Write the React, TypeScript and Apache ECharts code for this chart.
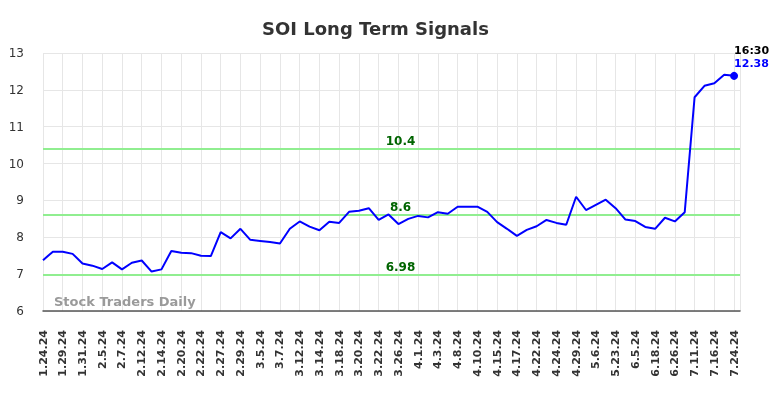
import React, { useEffect, useRef } from "react";
import * as echarts from "echarts";

const dates: string[] = [
  "1.24.24", "1.26.24", "1.29.24", "1.30.24", "1.31.24", "2.2.24", "2.5.24", "2.6.24",
  "2.7.24", "2.9.24", "2.12.24", "2.13.24", "2.14.24", "2.16.24", "2.20.24", "2.21.24",
  "2.22.24", "2.26.24", "2.27.24", "2.28.24", "2.29.24", "3.1.24", "3.5.24", "3.6.24",
  "3.7.24", "3.8.24", "3.12.24", "3.13.24", "3.14.24", "3.15.24", "3.18.24", "3.19.24",
  "3.20.24", "3.21.24", "3.22.24", "3.25.24", "3.26.24", "3.28.24", "4.1.24", "4.2.24",
  "4.3.24", "4.5.24", "4.8.24", "4.9.24", "4.10.24", "4.12.24", "4.15.24", "4.16.24",
  "4.17.24", "4.19.24", "4.22.24", "4.23.24", "4.24.24", "4.26.24", "4.29.24", "5.1.24",
  "5.6.24", "5.14.24", "5.23.24", "5.30.24", "6.5.24", "6.11.24", "6.18.24", "6.21.24",
  "6.26.24", "7.2.24", "7.11.24", "7.12.24", "7.16.24", "7.19.24", "7.24.24",
];

const prices: number[] = [
  7.38, 7.61, 7.61, 7.55, 7.29, 7.23, 7.14, 7.32, 7.13, 7.31,
  7.37, 7.07, 7.13, 7.63, 7.58, 7.57, 7.5, 7.49, 8.14, 7.97,
  8.23, 7.93, 7.9, 7.87, 7.83, 8.23, 8.43, 8.29, 8.19, 8.42,
  8.39, 8.69, 8.72, 8.79, 8.47, 8.62, 8.36, 8.5, 8.58, 8.54,
  8.68, 8.64, 8.83, 8.83, 8.83, 8.69, 8.41, 8.23, 8.04, 8.2,
  8.3, 8.47, 8.39, 8.34, 9.1, 8.74, 8.88, 9.02, 8.79, 8.48,
  8.44, 8.28, 8.23, 8.53, 8.43, 8.68, 11.8, 12.11, 12.18, 12.41,
  12.38,
];

const signalLevels: number[] = [10.4, 8.6, 6.98];
const lastTime = "16:30";
const yTicks = { min: 6, max: 13, interval: 1 };

export default function App() {
  const ref = useRef<HTMLDivElement>(null);

  useEffect(() => {
    if (!ref.current) return;
    const chart = echarts.init(ref.current, null, { renderer: "svg" });
    const font = "DejaVu Sans";
    const lastIdx = prices.length - 1;
    const data = prices.map((v, i) => {
      if (i === lastIdx) {
        return {
          value: [i, v],
          symbol: "circle",
          symbolSize: 8,
          label: {
            show: true,
            position: [4, -28],
            align: "left",
            formatter: () => `{t|${lastTime}}\n{v|${v.toFixed(2)}}`,
            rich: {
              t: { color: "#000", fontWeight: "bold", fontSize: 11, fontFamily: font, lineHeight: 13 },
              v: { color: "#0000ff", fontWeight: "bold", fontSize: 11, fontFamily: font, lineHeight: 13 },
            },
          },
        };
      }
      return { value: [i, v] };
    });

    chart.setOption({
      animation: false,
      title: {
        text: "SOI Long Term Signals",
        left: 257,
        top: 14,
        textStyle: { fontFamily: font, fontSize: 18, fontWeight: "bold", color: "#333" },
      },
      grid: { left: 43, right: 44, top: 53, bottom: 87 },
      xAxis: {
        type: "value",
        min: 0,
        max: 70.6,
        interval: 2,
        axisLine: { show: true, onZero: false, lineStyle: { color: "#555", width: 1.5 } },
        axisTick: { show: false },
        splitLine: { show: true, lineStyle: { color: "#e6e6e6", width: 1 } },
        axisLabel: {
          rotate: 90,
          margin: 19,
          fontFamily: font,
          fontSize: 11,
          fontWeight: "bold",
          color: "#333",
          showMaxLabel: false,
          formatter: (val: number) => {
            const idx = Math.round(val);
            return Math.abs(idx - val) < 1e-6 && dates[idx] ? dates[idx] : "";
          },
        },
      },
      yAxis: {
        type: "value",
        min: yTicks.min,
        max: yTicks.max,
        interval: yTicks.interval,
        axisLine: { show: false },
        axisTick: { show: false },
        splitLine: { show: true, lineStyle: { color: "#e6e6e6", width: 1 } },
        axisLabel: { margin: 19, fontFamily: font, fontSize: 12, color: "#333" },
      },
      graphic: [
        {
          type: "text",
          left: 54,
          top: 295,
          z: 100,
          style: {
            text: "Stock Traders Daily",
            fontFamily: font,
            fontSize: 13,
            fontWeight: "bold",
            fill: "#9a9a9a",
          },
        },
      ],
      series: [
        {
          type: "line",
          data,
          symbol: "none",
          showSymbol: true,
          lineStyle: { color: "#0000ff", width: 2 },
          itemStyle: { color: "#0000ff" },
          z: 5,
          markLine: {
            silent: true,
            symbol: ["none", "none"],
            lineStyle: { color: "#90ee90", width: 2, type: "solid" },
            label: {
              show: true,
              position: "insideMiddleTop",
              distance: 2,
              offset: [9, 0],
              color: "#006400",
              fontFamily: font,
              fontSize: 12,
              fontWeight: "bold",
              formatter: (p: any) => String(p.value),
            },
            data: signalLevels.map((y) => ({ yAxis: y })),
            z: 3,
          },
        },
      ],
    });

    return () => chart.dispose();
  }, []);

  return (
    <div
      ref={ref}
      style={{ position: "fixed", left: 0, top: 0, width: 784, height: 398 }}
    />
  );
}
